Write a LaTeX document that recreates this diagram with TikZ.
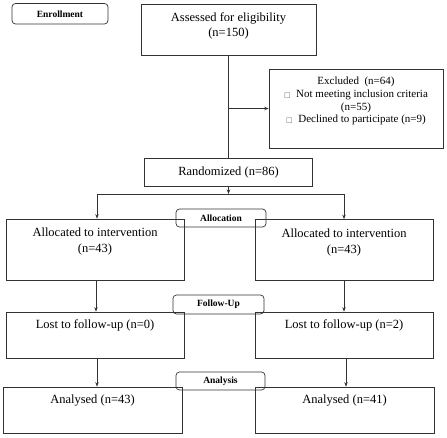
\documentclass[tikz,border=0pt]{standalone}
\usepackage{fontspec}
\setmainfont{Liberation Serif}
\newfontfamily\symfont{DejaVu Sans}
\usetikzlibrary{arrows.meta}
\begin{document}
\begin{tikzpicture}[x=1pt,y=1pt,
  box/.style={draw=black!80, line width=0.7pt, rectangle, inner sep=0pt},
  tag/.style={draw=black!80, line width=0.7pt, rounded corners=3.5pt, inner sep=0pt, font=\fontsize{9.5}{11}\selectfont\bfseries},
  txt/.style={align=center, inner sep=0pt, font=\fontsize{12.5}{14.5}\selectfont},
  smalltxt/.style={align=center, inner sep=0pt, font=\fontsize{11}{12.8}\selectfont},
  arr/.style={draw=black!80, line width=0.7pt, -{Stealth[length=4.5pt,width=3.5pt]}},
  ln/.style={draw=black!80, line width=0.7pt}]
\useasboundingbox (0,0) rectangle (447,-437);
\newcommand{\sqbox}{{\symfont\fontsize{7}{8}\selectfont\textcolor{black!60}{□}}}

% boxes
\node[tag, minimum width=96, minimum height=20.5] (enroll) at (60,-13.75) {Enrollment};
\node[box, minimum width=175, minimum height=51] (assess) at (228.5,-29.5) {};
\node[txt] (assesst) at (228.5,-26) {Assessed for eligibility\\(n=150)};
\node[box, minimum width=174, minimum height=79] (excl) at (356,-108.5) {};
\node[smalltxt] (exclt) at (356,-101) {Excluded\ \ (n=64)\\\sqbox\ \ Not meeting inclusion criteria\\(n=55)\\\sqbox\ \ Declined to participate (n=9)};
\node[box, minimum width=168, minimum height=28] (rand) at (228.5,-172) {};
\node[txt] (randt) at (228.5,-172) {Randomized (n=86)};

\node[box, minimum width=178, minimum height=61] (allocL) at (95,-249.5) {};
\node[txt, font=\fontsize{12.5}{16}\selectfont] (allocLt) at (95,-241.5) {Allocated to intervention\\(n=43)};
\node[box, minimum width=178, minimum height=61] (allocR) at (344,-250) {};
\node[txt, font=\fontsize{12.5}{16}\selectfont] (allocRt) at (344,-242) {Allocated to intervention\\(n=43)};
\node[tag, minimum width=90, minimum height=18] (allocation) at (221,-218) {Allocation};

\node[box, minimum width=178, minimum height=46] (lostL) at (95,-335) {};
\node[txt] (lostLt) at (95,-325) {Lost to follow-up (n=0)};
\node[box, minimum width=178, minimum height=46] (lostR) at (344,-335) {};
\node[txt] (lostRt) at (344,-325) {Lost to follow-up (n=2)};
\node[tag, minimum width=91, minimum height=19] (followup) at (218.5,-304.5) {Follow-Up};

\node[box, minimum width=179, minimum height=46] (anaL) at (92.5,-410) {};
\node[txt] (anaLt) at (92.5,-401) {Analysed (n=43)};
\node[box, minimum width=179, minimum height=46] (anaR) at (344.5,-410) {};
\node[txt] (anaRt) at (344.5,-401) {Analysed (n=41)};
\node[tag, minimum width=89, minimum height=18] (analysis) at (220.5,-381) {Analysis};

% connectors
\coordinate (br) at (228.5,-108.5);
\coordinate (split) at (228.5,-194);
\draw[ln] (assess.south) -- (rand.north);
\draw[arr] (br) -- (excl.west);
\draw[arr] (rand.south) -- (split);
\draw[arr] (split) -| ([xshift=2pt]allocL.north);
\draw[arr] (split) -| (allocR.north);
\draw[arr] ([xshift=1pt]allocL.south) -- ([xshift=1pt]lostL.north);
\draw[arr] (allocR.south) -- (allocR.south |- lostR.north);
\draw[arr] ([xshift=2pt]lostL.south) -- ([xshift=2pt]lostL.south |- anaL.north);
\draw[arr] ([xshift=2pt]lostR.south) -- ([xshift=2pt]lostR.south |- anaR.north);
\end{tikzpicture}
\end{document}
